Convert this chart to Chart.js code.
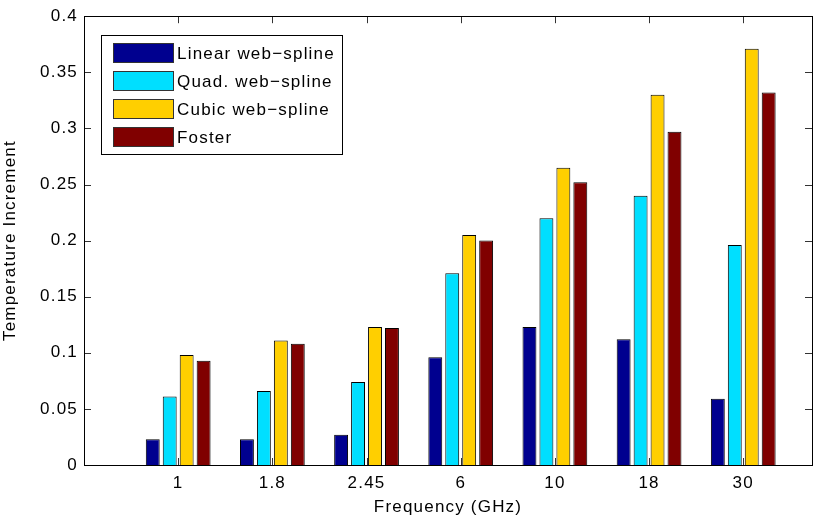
<!DOCTYPE html>
<html lang="en">
<head>
    <meta charset="UTF-8">
    <title>Temperature Increment</title>
    <script src="https://cdn.jsdelivr.net/npm/chart.js"></script>
    <style>
        html, body { margin: 0; padding: 0; background: white; overflow: hidden; }
        #wrap { width: 826px; height: 523px; }
    </style>
</head>
<body>
    <div id="wrap"><canvas id="grafico" width="826" height="523"></canvas></div>
<script>
    // data
    const frequencias = ['1', '1.8', '2.45', '6', '10', '18', '30'];
    const linear = [0.023, 0.023, 0.027, 0.096, 0.123, 0.112, 0.059];
    const quad = [0.061, 0.066, 0.074, 0.171, 0.220, 0.240, 0.196];
    const cubic = [0.098, 0.111, 0.123, 0.205, 0.265, 0.330, 0.371];
    const foster = [0.093, 0.108, 0.122, 0.200, 0.252, 0.297, 0.332];
    const yTicks = [0, 0.05, 0.1, 0.15, 0.2, 0.25, 0.3, 0.35, 0.4];

    const fonte = "'Liberation Sans', Arial, sans-serif";
    const espaco = '1.2px';
    const pontos = arr => arr.map((v, i) => ({ x: i + 1, y: v }));

    // matlab style box, inward ticks and legend inside the axes
    const caixa = {
        id: 'caixa',
        beforeLayout(chart) { chart.ctx.letterSpacing = espaco; },
        beforeDraw(chart) { chart.ctx.letterSpacing = espaco; },
        beforeDatasetsDraw(chart) {
            const { ctx, chartArea: a, scales } = chart;
            ctx.save();
            ctx.strokeStyle = '#333';
            ctx.lineWidth = 1;
            ctx.beginPath();
            scales.y.ticks.forEach(t => {
                const y = Math.round(scales.y.getPixelForValue(t.value)) + 0.5;
                ctx.moveTo(a.left, y); ctx.lineTo(a.left + 7, y);
                ctx.moveTo(a.right, y); ctx.lineTo(a.right - 7, y);
            });
            scales.x.ticks.forEach(t => {
                const x = Math.round(scales.x.getPixelForValue(t.value)) + 0.5;
                ctx.moveTo(x, a.bottom); ctx.lineTo(x, a.bottom - 7);
                ctx.moveTo(x, a.top); ctx.lineTo(x, a.top + 7);
            });
            ctx.stroke();
            ctx.restore();
        },
        afterDraw(chart) {
            const { ctx, chartArea: a } = chart;
            ctx.save();
            ctx.strokeStyle = '#000';
            ctx.lineWidth = 1;
            ctx.strokeRect(Math.round(a.left) + 0.5, Math.round(a.top) + 0.5,
                Math.round(a.right - a.left), Math.round(a.bottom - a.top));

            // legend
            const lx = 101, ly = 35, lw = 241, lh = 119;
            ctx.fillStyle = '#fff';
            ctx.fillRect(lx, ly, lw, lh);
            ctx.strokeRect(lx + 0.5, ly + 0.5, lw, lh);
            ctx.font = '17px ' + fonte;
            ctx.letterSpacing = espaco;
            ctx.textBaseline = 'middle';
            chart.data.datasets.forEach((ds, i) => {
                const cy = ly + 18 + i * 28;
                ctx.fillStyle = ds.backgroundColor;
                ctx.fillRect(113, cy - 10, 61, 20);
                ctx.strokeStyle = '#333';
                ctx.strokeRect(113.5, cy - 9.5, 60, 19);
                ctx.fillStyle = '#000';
                ctx.fillText(ds.label, 177, cy + 1);
            });
            ctx.restore();
        }
    };

    const ctx = document.getElementById('grafico').getContext('2d');

    const grafico = new Chart(ctx, {
        type: 'bar',
        data: {
            datasets: [
                { label: 'Linear web\u2212spline', data: pontos(linear), backgroundColor: '#00008F' },
                { label: 'Quad. web\u2212spline', data: pontos(quad), backgroundColor: '#00DFFF' },
                { label: 'Cubic web\u2212spline', data: pontos(cubic), backgroundColor: '#FFCF00' },
                { label: 'Foster', data: pontos(foster), backgroundColor: '#800000' }
            ]
        },
        options: {
            responsive: false,
            animation: false,
            layout: { padding: { top: 15, right: 14, left: 0, bottom: 0 } },
            datasets: {
                bar: {
                    borderColor: '#000',
                    borderWidth: 1,
                    categoryPercentage: 0.72,
                    barPercentage: 0.82
                }
            },
            scales: {
                x: {
                    type: 'linear',
                    offset: false,
                    min: 0,
                    max: 7.73,
                    afterBuildTicks: s => { s.ticks = frequencias.map((f, i) => ({ value: i + 1 })); },
                    afterFit: s => { s.height = 58; },
                    ticks: {
                        color: '#000',
                        font: { family: fonte, size: 17 },
                        padding: 8,
                        maxRotation: 0,
                        callback: v => frequencias[v - 1]
                    },
                    grid: { display: false, drawTicks: false },
                    border: { display: false },
                    title: {
                        display: true,
                        text: 'Frequency (GHz)',
                        color: '#000',
                        font: { family: fonte, size: 17 },
                        padding: { top: 0, bottom: 5 }
                    }
                },
                y: {
                    min: 0,
                    max: 0.4,
                    afterBuildTicks: s => { s.ticks = yTicks.map(v => ({ value: v })); },
                    afterFit: s => { s.width = 84; },
                    ticks: {
                        color: '#000',
                        font: { family: fonte, size: 17 },
                        padding: 6,
                        callback: v => String(v)
                    },
                    grid: { display: false, drawTicks: false },
                    border: { display: false },
                    title: {
                        display: true,
                        text: 'Temperature Increment',
                        color: '#000',
                        font: { family: fonte, size: 17 },
                        padding: { top: 0, bottom: 0 }
                    }
                }
            },
            plugins: {
                legend: { display: false },
                tooltip: { enabled: false }
            }
        },
        plugins: [caixa]
    });
</script>
</body>
</html>
